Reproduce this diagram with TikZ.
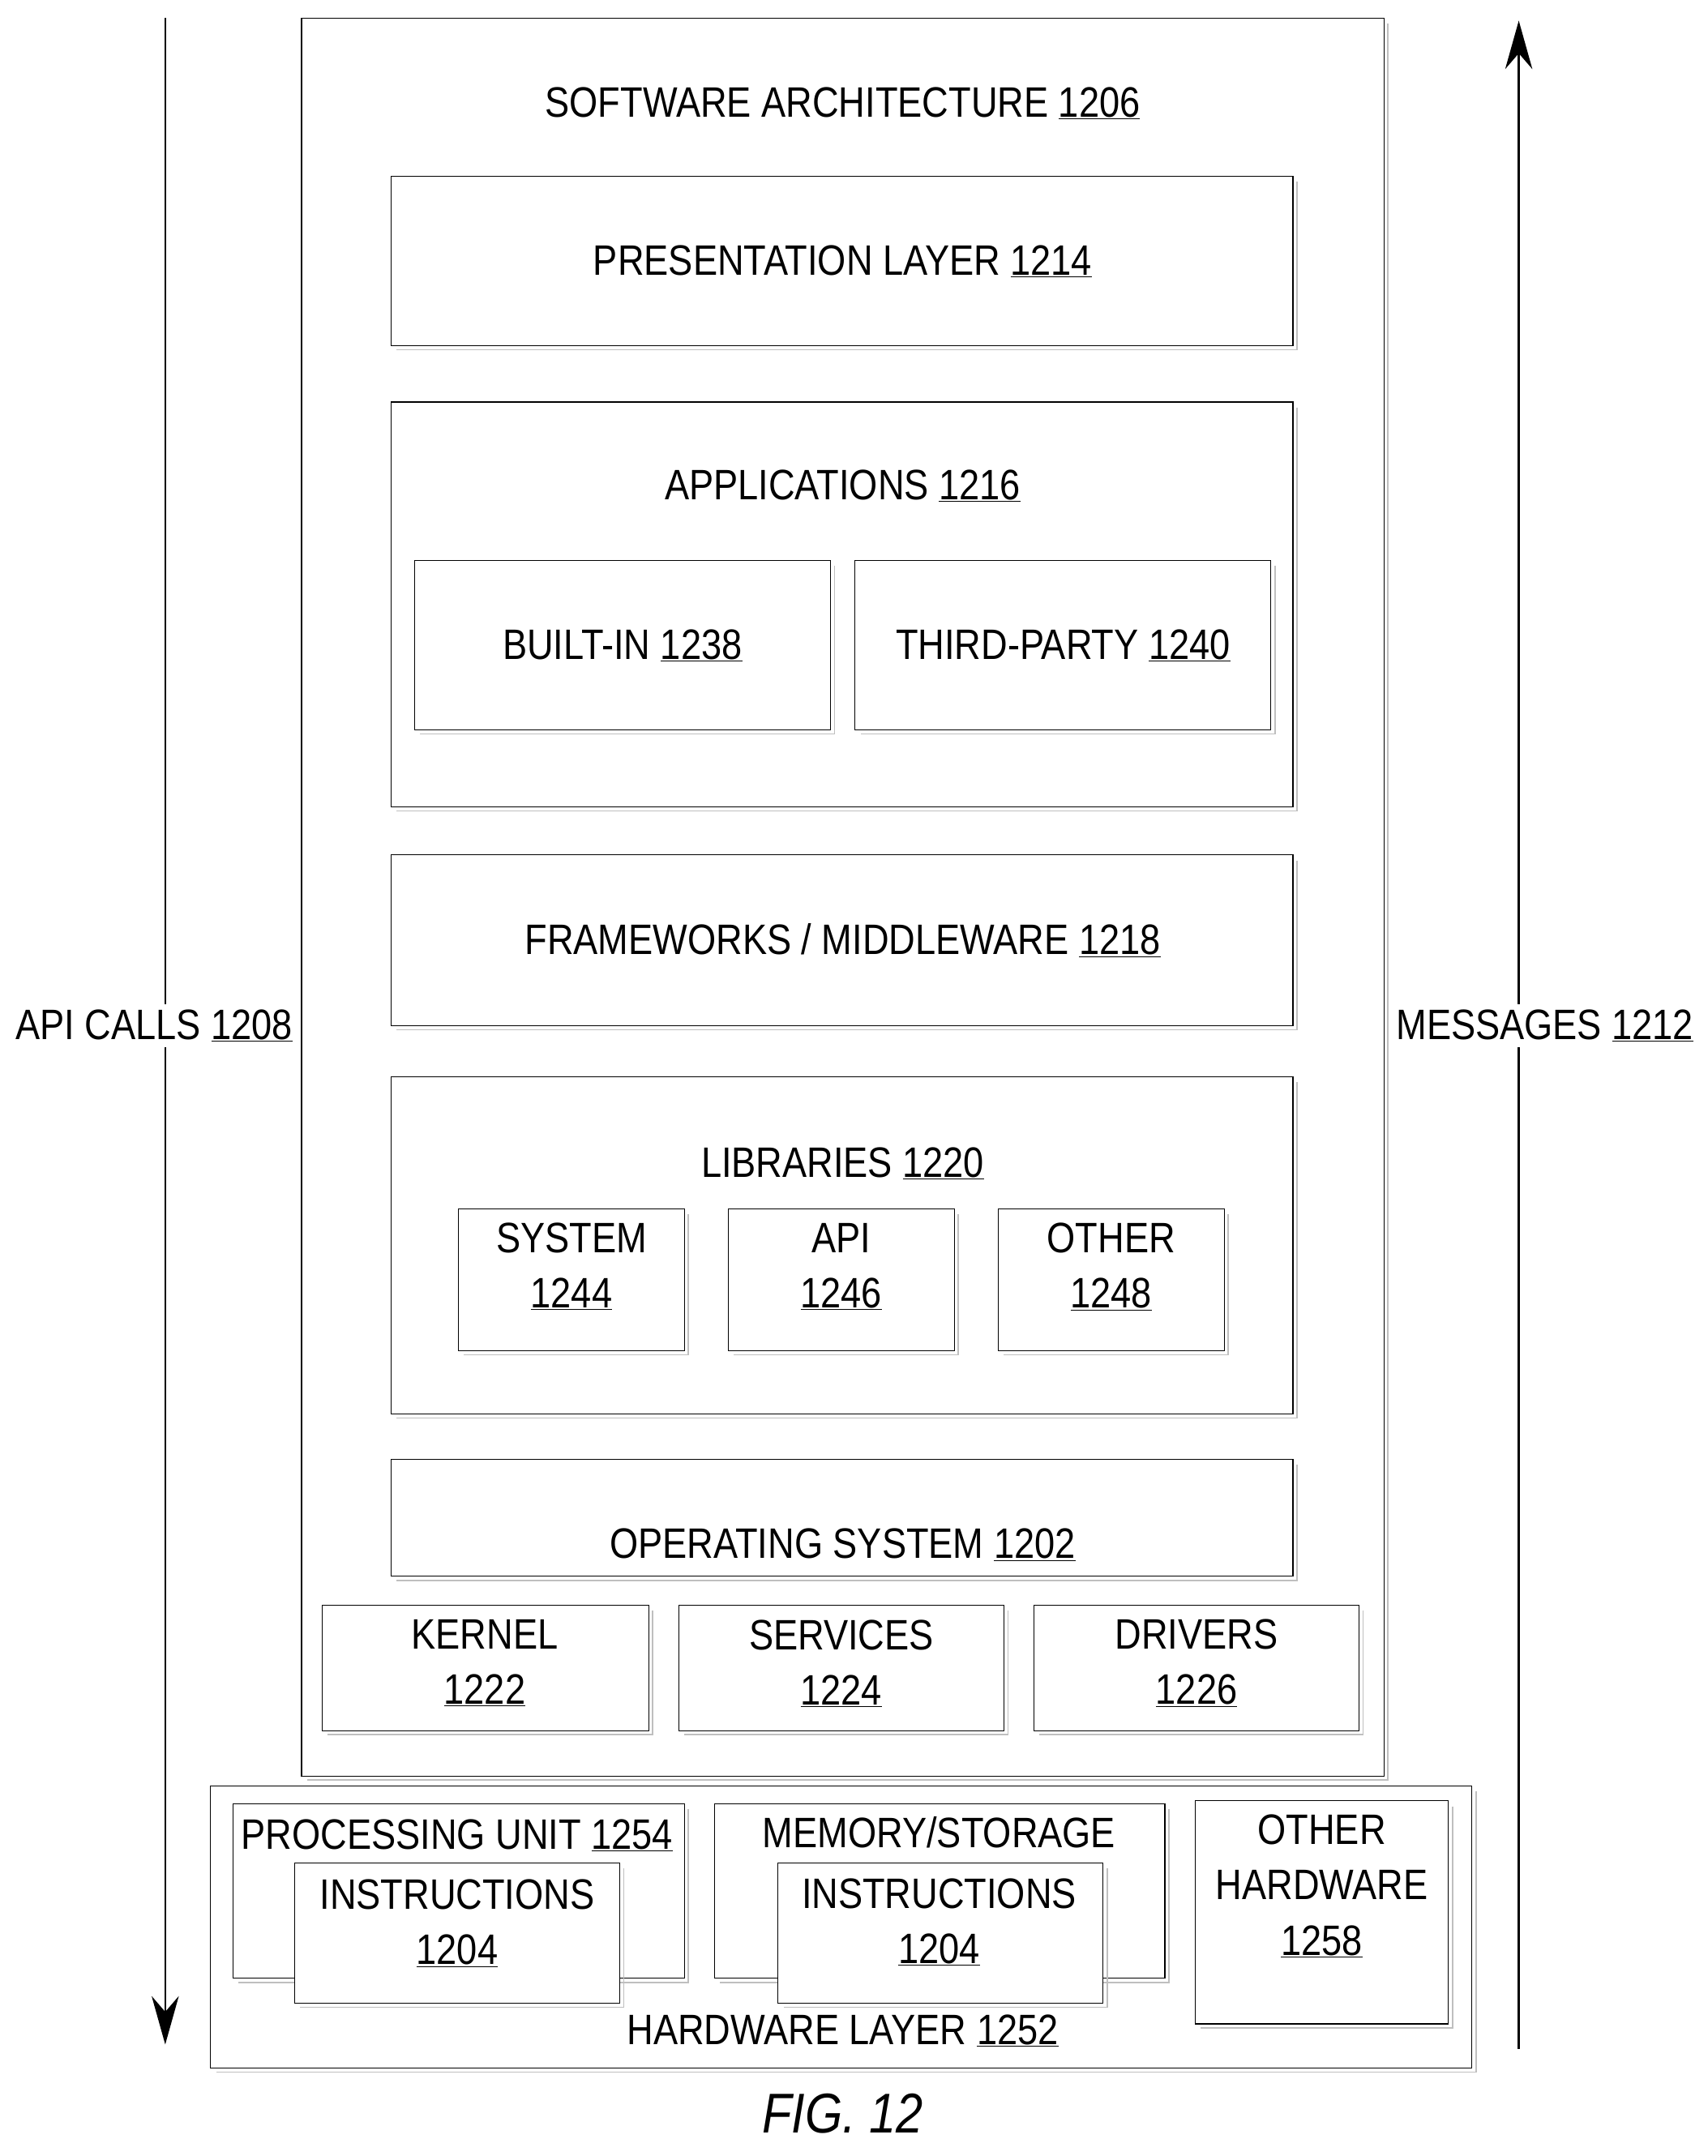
\documentclass[tikz,border=0pt]{standalone}
\usepackage{fontspec}
\setmainfont{Liberation Sans}[FakeStretch=0.86]
\usetikzlibrary{arrows.meta}
\newcommand{\un}[1]{\underline{#1}}
\begin{document}
\begin{tikzpicture}[x=0.05cm,y=-0.05cm,
  font=\fontsize{44}{57}\selectfont,
  bx/.style={draw=black,line width=0.9pt,fill=white},
  lbl/.style={inner sep=0pt,align=center},
  arr/.style={line width=2pt,-{Stealth[length=50pt,width=28pt]}}]
\useasboundingbox (0,0) rectangle (1240,1566);
\newcommand{\bxs}[5]{% name, x1,y1,x2,y2
  \draw[gray!50,line width=1.4pt] (#4+3,#3+4) -- (#4+3,#5+3) -- (#2+4,#5+3);
  \path[bx] (#2,#3) rectangle (#4,#5);
  \coordinate (#1) at ({(#2+#4)/2},{(#3+#5)/2});}
\bxs{sw}{219}{13}{1005}{1290}
\node[lbl] (swt) at (612,75) {SOFTWARE ARCHITECTURE \un{1206}};
\bxs{pl}{284}{128}{939}{251}
\node[lbl] (plt) at (612,190) {PRESENTATION LAYER \un{1214}};
\bxs{ap}{284}{292}{939}{586}
\node[lbl] (apt) at (612,353) {APPLICATIONS \un{1216}};
\bxs{bi}{301}{407}{603}{530}
\node[lbl] (bit) at (452,469) {BUILT-IN \un{1238}};
\bxs{tp}{621}{407}{923}{530}
\node[lbl] (tpt) at (772,469) {THIRD-PARTY \un{1240}};
\bxs{fw}{284}{621}{939}{745}
\node[lbl] (fwt) at (612,683) {FRAMEWORKS / MIDDLEWARE \un{1218}};
\bxs{lb}{284}{782}{939}{1027}
\node[lbl] (lbt) at (612,845) {LIBRARIES \un{1220}};
\bxs{sy}{333}{878}{497}{981}
\node[lbl] (syt) at (415,920) {SYSTEM\\\un{1244}};
\bxs{apl}{529}{878}{693}{981}
\node[lbl] (aplt) at (611,920) {API\\\un{1246}};
\bxs{ot}{725}{878}{889}{981}
\node[lbl] (ott) at (807,920) {OTHER\\\un{1248}};
\bxs{os}{284}{1060}{939}{1145}
\node[lbl] (ost) at (612,1122) {OPERATING SYSTEM \un{1202}};
\bxs{ke}{234}{1166}{471}{1257}
\node[lbl] (ket) at (352,1208) {KERNEL\\\un{1222}};
\bxs{se}{493}{1166}{729}{1257}
\node[lbl] (set) at (611,1208) {SERVICES\\\un{1224}};
\bxs{dr}{751}{1166}{987}{1257}
\node[lbl] (drt) at (869,1208) {DRIVERS\\\un{1226}};
\bxs{hw}{153}{1297}{1069}{1502}
\node[lbl] (hwt) at (612,1475) {HARDWARE LAYER \un{1252}};
\bxs{pu}{169}{1310}{497}{1437}
\node[lbl] (put) at (332,1333) {PROCESSING UNIT \un{1254}};
\bxs{in1}{214}{1353}{450}{1455}
\node[lbl] (in1t) at (332,1397) {INSTRUCTIONS\\\un{1204}};
\bxs{ms}{519}{1310}{846}{1437}
\node[lbl] (mst) at (682,1331) {MEMORY/STORAGE};
\bxs{in2}{565}{1353}{801}{1455}
\node[lbl] (in2t) at (682,1396) {INSTRUCTIONS\\\un{1204}};
\bxs{oh}{868}{1308}{1052}{1470}
\node[lbl] (oht) at (960,1370) {OTHER\\HARDWARE\\\un{1258}};
\coordinate (a1) at (120,13);
\coordinate (a2) at (120,1485);
\coordinate (m1) at (1103,1488);
\coordinate (m2) at (1103,15);
\draw[arr] (a1) -- (a2);
\draw[arr] (m1) -- (m2);
\node[lbl,fill=white,inner sep=6pt] (api) at (112,745) {API CALLS \un{1208}};
\node[lbl,fill=white,inner sep=6pt] (msg) at (1122,745) {MESSAGES \un{1212}};
\node[lbl,font=\fontsize{58}{66}\selectfont\itshape] (fig) at (612,1535) {FIG. 12};
\end{tikzpicture}
\end{document}
